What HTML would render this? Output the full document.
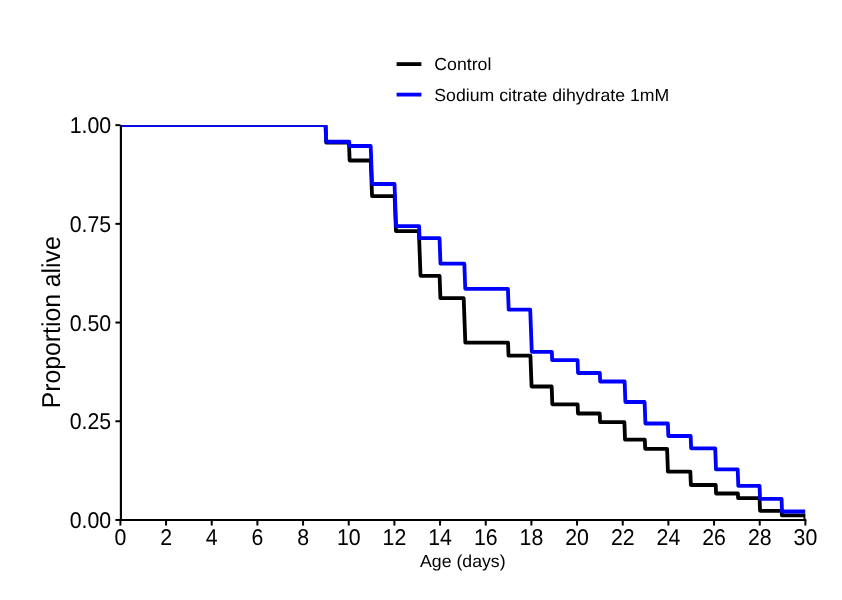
<!DOCTYPE html>
<html><head><meta charset="utf-8"><title>Survival</title>
<style>
html,body{margin:0;padding:0;background:#fff;}
body{width:842px;height:600px;overflow:hidden;}
svg{display:block;will-change:transform;transform:translateZ(0);}
text{font-family:"Liberation Sans",Arial,Helvetica,sans-serif;fill:#000;text-rendering:geometricPrecision;}
.tk{font-size:21.3px;}
.lg{font-size:17.4px;}
</style></head><body>
<svg width="842" height="600" viewBox="0 0 842 600">
<rect width="842" height="600" fill="#fff"/>
<defs><clipPath id="cp"><rect x="120.40" y="125.15" width="685.00" height="394.80"/></clipPath></defs>
<g clip-path="url(#cp)" fill="none" stroke-linejoin="round" stroke-linecap="butt">
<path d="M120.40,125.15H325.58L326.22,142.70H348.97L349.63,160.50H370.74L372.06,196.10H394.65L395.95,231.20H418.87L420.53,275.80H439.59L440.41,298.10H463.67L465.33,342.70H508.06L508.54,355.70H530.43L531.57,386.50H551.67L552.33,404.30H577.63L577.97,413.50H599.74L600.06,422.10H624.38L625.02,439.60H644.83L645.17,448.80H667.08L667.92,471.60H690.35L690.85,485.00H715.74L716.06,493.50H737.91L738.09,498.20H759.57L760.03,510.80H781.71L781.89,515.40H805.40V519.95" stroke="#000" stroke-width="3.8"/>
<path d="M120.40,125.15H325.59L326.21,141.75H349.22L349.38,146.00H370.70L372.10,184.00H394.52L396.08,226.20H419.13L419.57,238.20H439.53L440.47,263.70H464.34L465.26,288.80H507.91L508.69,309.70H530.22L531.78,351.80H551.84L552.16,360.20H577.56L578.04,373.00H599.84L600.16,381.50H624.62L625.38,402.00H644.60L645.40,423.50H667.87L668.33,436.00H690.67L691.13,448.30H715.21L715.99,469.40H737.69L738.31,485.90H759.56L760.04,498.90H781.57L782.03,511.50H805.40" stroke="#0000ff" stroke-width="3.8"/>
</g>
<g stroke="#000" stroke-width="2.0" fill="none">
<line x1="120.90" y1="125.15" x2="120.90" y2="521.03" stroke-width="2.15"/>
<line x1="119.83" y1="519.95" x2="806.40" y2="519.95" stroke-width="2.15"/>
<line x1="120.40" y1="519.95" x2="120.40" y2="525.55"/>
<line x1="166.07" y1="519.95" x2="166.07" y2="525.55"/>
<line x1="211.73" y1="519.95" x2="211.73" y2="525.55"/>
<line x1="257.40" y1="519.95" x2="257.40" y2="525.55"/>
<line x1="303.06" y1="519.95" x2="303.06" y2="525.55"/>
<line x1="348.73" y1="519.95" x2="348.73" y2="525.55"/>
<line x1="394.40" y1="519.95" x2="394.40" y2="525.55"/>
<line x1="440.06" y1="519.95" x2="440.06" y2="525.55"/>
<line x1="485.73" y1="519.95" x2="485.73" y2="525.55"/>
<line x1="531.39" y1="519.95" x2="531.39" y2="525.55"/>
<line x1="577.06" y1="519.95" x2="577.06" y2="525.55"/>
<line x1="622.73" y1="519.95" x2="622.73" y2="525.55"/>
<line x1="668.39" y1="519.95" x2="668.39" y2="525.55"/>
<line x1="714.06" y1="519.95" x2="714.06" y2="525.55"/>
<line x1="759.72" y1="519.95" x2="759.72" y2="525.55"/>
<line x1="805.39" y1="519.95" x2="805.39" y2="525.55"/>
<line x1="115.40" y1="519.95" x2="120.40" y2="519.95"/>
<line x1="115.40" y1="421.25" x2="120.40" y2="421.25"/>
<line x1="115.40" y1="322.55" x2="120.40" y2="322.55"/>
<line x1="115.40" y1="223.85" x2="120.40" y2="223.85"/>
<line x1="115.40" y1="125.15" x2="120.40" y2="125.15"/>
</g>
<text class="tk" text-anchor="middle" transform="translate(120.40,545.2) scale(1,1.075)">0</text>
<text class="tk" text-anchor="middle" transform="translate(166.07,545.2) scale(1,1.075)">2</text>
<text class="tk" text-anchor="middle" transform="translate(211.73,545.2) scale(1,1.075)">4</text>
<text class="tk" text-anchor="middle" transform="translate(257.40,545.2) scale(1,1.075)">6</text>
<text class="tk" text-anchor="middle" transform="translate(303.06,545.2) scale(1,1.075)">8</text>
<text class="tk" text-anchor="middle" transform="translate(348.73,545.2) scale(1,1.075)">10</text>
<text class="tk" text-anchor="middle" transform="translate(394.40,545.2) scale(1,1.075)">12</text>
<text class="tk" text-anchor="middle" transform="translate(440.06,545.2) scale(1,1.075)">14</text>
<text class="tk" text-anchor="middle" transform="translate(485.73,545.2) scale(1,1.075)">16</text>
<text class="tk" text-anchor="middle" transform="translate(531.39,545.2) scale(1,1.075)">18</text>
<text class="tk" text-anchor="middle" transform="translate(577.06,545.2) scale(1,1.075)">20</text>
<text class="tk" text-anchor="middle" transform="translate(622.73,545.2) scale(1,1.075)">22</text>
<text class="tk" text-anchor="middle" transform="translate(668.39,545.2) scale(1,1.075)">24</text>
<text class="tk" text-anchor="middle" transform="translate(714.06,545.2) scale(1,1.075)">26</text>
<text class="tk" text-anchor="middle" transform="translate(759.72,545.2) scale(1,1.075)">28</text>
<text class="tk" text-anchor="middle" transform="translate(805.39,545.2) scale(1,1.075)">30</text>
<text class="tk" text-anchor="end" transform="translate(111.1,528.05) scale(1,1.075)">0.00</text>
<text class="tk" text-anchor="end" transform="translate(111.1,429.35) scale(1,1.075)">0.25</text>
<text class="tk" text-anchor="end" transform="translate(111.1,330.65) scale(1,1.075)">0.50</text>
<text class="tk" text-anchor="end" transform="translate(111.1,231.95) scale(1,1.075)">0.75</text>
<text class="tk" text-anchor="end" transform="translate(111.1,133.25) scale(1,1.075)">1.00</text>
<text class="lg" text-anchor="middle" transform="translate(462.8,566.6) scale(1.017,1)">Age (days)</text>
<text x="0" y="0" font-size="24.75px" text-anchor="middle" transform="translate(60,322.3) rotate(-90) scale(1,1.045)">Proportion alive</text>
<line x1="396.6" y1="64.1" x2="421.4" y2="64.1" stroke="#000" stroke-width="3.8"/>
<line x1="396.6" y1="94.6" x2="421.4" y2="94.6" stroke="#0000ff" stroke-width="3.8"/>
<text class="lg" transform="translate(434.3,70.3) scale(1.017,1)">Control</text>
<text class="lg" transform="translate(434.3,100.6) scale(1.017,1)">Sodium citrate dihydrate 1mM</text>
</svg></body></html>
